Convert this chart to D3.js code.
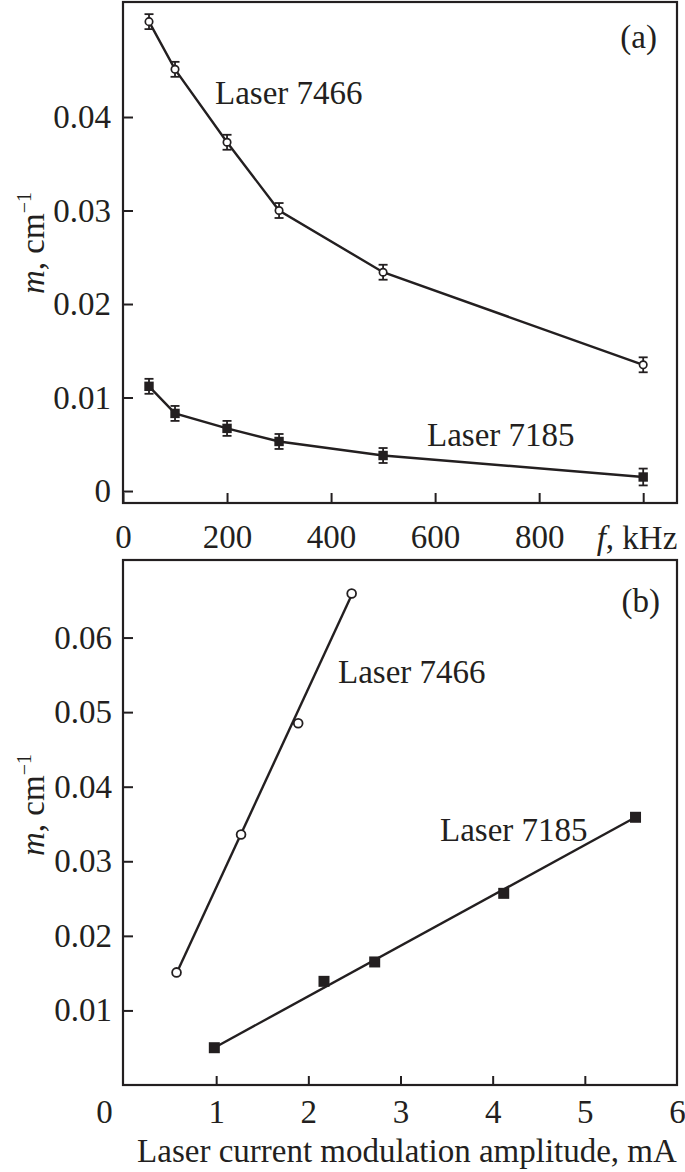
<!DOCTYPE html>
<html><head><meta charset="utf-8">
<script src="https://cdn.jsdelivr.net/npm/d3@7"></script>
<style>
html,body{margin:0;padding:0;background:#fff;}
text{font-family:"Liberation Serif","DejaVu Serif",serif;fill:#231f20;}
</style></head>
<body><svg id="c" width="685" height="1172"></svg>
<script>
// ---- data (panel a) ----
const freqA = [50, 100, 200, 300, 500, 1000];
const m7466A = [0.0502, 0.0451, 0.0373, 0.0300, 0.0234, 0.0135];
const err7466A = [0.0008, 0.0008, 0.0008, 0.0008, 0.0008, 0.0008];
const m7185A = [0.0112, 0.0083, 0.0067, 0.0053, 0.0038, 0.0015];
const err7185A = [0.0008, 0.0008, 0.0008, 0.0008, 0.0008, 0.0009];
const xTicksA = [0, 200, 400, 600, 800, 1000];
const xTickLabelsA = ["0", "200", "400", "600", "800", ""];
const yTicksA = [0, 0.01, 0.02, 0.03, 0.04];
// ---- data (panel b) ----
const ampB7466 = [0.57, 1.27, 1.89, 2.47];
const mB7466 = [0.0151, 0.0336, 0.0485, 0.0659];
const fitX7466 = [0.57, 2.47];
const fitY7466 = [0.0150, 0.0657];
const ampB7185 = [0.98, 2.17, 2.72, 4.12, 5.55];
const mB7185 = [0.0050, 0.0139, 0.0165, 0.0257, 0.0359];
const fitX7185 = [0.98, 5.55];
const fitY7185 = [0.0050, 0.0359];
const xTicksB = [0, 1, 2, 3, 4, 5, 6];
const yTicksB = [0.01, 0.02, 0.03, 0.04, 0.05, 0.06];

const svg = d3.select("#c");
const ink = "#231f20";
const FS = 33;

// scales
const xA = d3.scaleLinear().domain([0, 1065]).range([123, 677]);
const yA = d3.scaleLinear().domain([-0.00128, 0.0523]).range([503, 2]);
const xB = d3.scaleLinear().domain([0, 6]).range([124, 677]);
const yB = d3.scaleLinear().domain([0, 0.0704]).range([1085, 560]);

function styleAxis(g) {
  g.select(".domain").remove();
  g.selectAll(".tick line").attr("stroke", ink).attr("stroke-width", 2);
  g.selectAll(".tick text").attr("font-size", FS).attr("font-family", "Liberation Serif").attr("fill", ink);
}

// ---- panel a ----
const gA = svg.append("g");
gA.append("g").attr("transform", "translate(0,503)")
  .call(d3.axisBottom(xA).tickValues(xTicksA).tickSize(-10).tickPadding(22)
    .tickFormat((d, i) => xTickLabelsA[i]))
  .call(styleAxis);
gA.append("g").attr("transform", "translate(123,0)")
  .call(d3.axisLeft(yA).tickValues(yTicksA).tickSize(-10).tickPadding(12)
    .tickFormat(d => d === 0 ? "0" : d3.format(".2f")(d)))
  .call(styleAxis);
gA.append("rect").attr("x", 123).attr("y", 2).attr("width", 554).attr("height", 501)
  .attr("fill", "none").attr("stroke", ink).attr("stroke-width", 2.2);

const lineA = d3.line().x(d => xA(d[0])).y(d => yA(d[1]));
function errBars(g, xs, ys, es, xs_, ys_) {
  xs.forEach((x, i) => {
    const cx = xs_(x), y1 = ys_(ys[i] - es[i]), y2 = ys_(ys[i] + es[i]);
    g.append("line").attr("x1", cx).attr("x2", cx).attr("y1", y1).attr("y2", y2).attr("stroke", ink).attr("stroke-width", 1.8);
    [y1, y2].forEach(yy => g.append("line").attr("x1", cx - 4.5).attr("x2", cx + 4.5).attr("y1", yy).attr("y2", yy).attr("stroke", ink).attr("stroke-width", 1.8));
  });
}
gA.append("path").datum(freqA.map((f, i) => [f, m7466A[i]])).attr("d", lineA)
  .attr("fill", "none").attr("stroke", ink).attr("stroke-width", 2.4);
gA.append("path").datum(freqA.map((f, i) => [f, m7185A[i]])).attr("d", lineA)
  .attr("fill", "none").attr("stroke", ink).attr("stroke-width", 2.4);
errBars(gA, freqA, m7466A, err7466A, xA, yA);
errBars(gA, freqA, m7185A, err7185A, xA, yA);
gA.selectAll("circle.a").data(freqA).enter().append("circle")
  .attr("cx", d => xA(d)).attr("cy", (d, i) => yA(m7466A[i])).attr("r", 3.7)
  .attr("fill", "#fff").attr("stroke", ink).attr("stroke-width", 1.7);
gA.selectAll("rect.a").data(freqA).enter().append("rect")
  .attr("x", d => xA(d) - 4.7).attr("y", (d, i) => yA(m7185A[i]) - 4.7).attr("width", 9.4).attr("height", 9.4)
  .attr("fill", ink);

gA.append("text").attr("x", 215).attr("y", 104).attr("font-size", FS).text("Laser 7466");
gA.append("text").attr("x", 427).attr("y", 446).attr("font-size", FS).text("Laser 7185");
gA.append("text").attr("x", 657).attr("y", 48).attr("text-anchor", "end").attr("font-size", FS).text("(a)");
const fl = gA.append("text").attr("x", 637).attr("y", 549).attr("text-anchor", "middle").attr("font-size", FS);
fl.append("tspan").attr("font-style", "italic").text("f");
fl.append("tspan").text(", kHz");

function yLabel(g, cx, cy) {
  const t = g.append("text").attr("transform", `translate(${cx},${cy}) rotate(-90)`)
    .attr("text-anchor", "middle").attr("font-size", FS);
  t.append("tspan").attr("font-style", "italic").text("m");
  t.append("tspan").text(", cm");
  t.append("tspan").attr("font-size", 20).attr("dy", -13).text("\u22121");
}
yLabel(gA, 44, 243);

// ---- panel b ----
const gB = svg.append("g");
const axB = gB.append("g").attr("transform", "translate(0,1085)")
  .call(d3.axisBottom(xB).tickValues(xTicksB).tickSize(-9).tickPadding(15).tickFormat(d3.format("d")))
  .call(styleAxis);
axB.selectAll(".tick").filter(d => d === 0).select("text").attr("x", -20);
axB.selectAll(".tick").filter(d => d === 0 || d === 6).select("line").remove();
gB.append("g").attr("transform", "translate(124,0)")
  .call(d3.axisLeft(yB).tickValues(yTicksB).tickSize(-9).tickPadding(12).tickFormat(d3.format(".2f")))
  .call(styleAxis);
gB.append("rect").attr("x", 123).attr("y", 560).attr("width", 554).attr("height", 525)
  .attr("fill", "none").attr("stroke", ink).attr("stroke-width", 2.2);

const lineB = d3.line().x(d => xB(d[0])).y(d => yB(d[1]));
gB.append("path").datum(fitX7466.map((x, i) => [x, fitY7466[i]])).attr("d", lineB)
  .attr("fill", "none").attr("stroke", ink).attr("stroke-width", 2.4);
gB.append("path").datum(fitX7185.map((x, i) => [x, fitY7185[i]])).attr("d", lineB)
  .attr("fill", "none").attr("stroke", ink).attr("stroke-width", 2.4);
gB.selectAll("circle.b").data(ampB7466).enter().append("circle")
  .attr("cx", d => xB(d)).attr("cy", (d, i) => yB(mB7466[i])).attr("r", 4.4)
  .attr("fill", "#fff").attr("stroke", ink).attr("stroke-width", 1.8);
gB.selectAll("rect.b").data(ampB7185).enter().append("rect")
  .attr("x", d => xB(d) - 5.5).attr("y", (d, i) => yB(mB7185[i]) - 5.5).attr("width", 11).attr("height", 11)
  .attr("fill", ink);

gB.append("text").attr("x", 338).attr("y", 683).attr("font-size", FS).text("Laser 7466");
gB.append("text").attr("x", 440).attr("y", 841).attr("font-size", FS).text("Laser 7185");
gB.append("text").attr("x", 660).attr("y", 612).attr("text-anchor", "end").attr("font-size", FS).text("(b)");
gB.append("text").attr("x", 407).attr("y", 1162).attr("text-anchor", "middle").attr("font-size", 33)
  .text("Laser current modulation amplitude, mA");
yLabel(gB, 44, 805);
</script></body></html>
